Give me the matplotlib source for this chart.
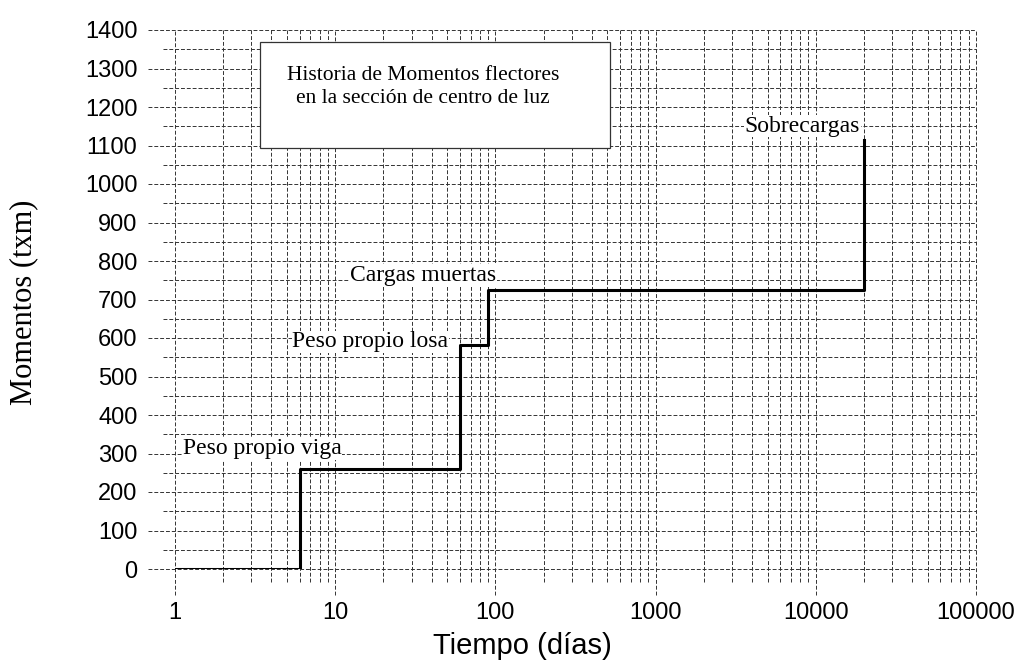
import matplotlib
matplotlib.use("Agg")
import matplotlib.pyplot as plt
from matplotlib.patches import Rectangle

# load history at mid-span: time (days) and bending moment (t*m)
tiempo = [1, 6, 60, 90, 20000]
momento = [0, 260, 583, 725, 1115]

etiquetas = ["Peso propio viga", "Peso propio losa", "Cargas muertas", "Sobrecargas"]
etiqueta_xy = [(1.12, 312), (5.4, 590), (12.4, 762), (3600, 1150)]

x_ticks = [1, 10, 100, 1000, 10000, 100000]
y_ticks = list(range(0, 1401, 100))

SERIF = "Liberation Serif"
SANS = "Liberation Sans"

fig = plt.figure(figsize=(10.2, 6.66), dpi=100)
ax = fig.add_axes([175 / 1020, 1 - 569 / 666, 801 / 1020, 539 / 666])
ax.set_xscale("log")
ax.set_xlim(1, 100000)
ax.set_ylim(0, 1400)
for s in ax.spines.values():
    s.set_visible(False)

grid_kw = dict(color="0.2", linewidth=0.7, linestyle=(0, (4, 2)), zorder=1)

# horizontal grid every 50, the hundreds run out past the axis
for y in range(0, 1401, 50):
    ext = 0.034 if y % 100 == 0 else 0.015
    ax.axhline(y, xmin=-ext, xmax=1, clip_on=False, **grid_kw)

# log grid, decades run further below the axis
for dec in range(5):
    for m in range(1, 10):
        xv = m * 10 ** dec
        ext = 0.048 if m == 1 else 0.024
        ax.axvline(xv, ymin=-ext, ymax=1, clip_on=False, **grid_kw)
ax.axvline(100000, ymin=-0.048, ymax=1, clip_on=False, **grid_kw)

ax.step(tiempo, momento, where="post", color="black", linewidth=2.2, zorder=4)

for txt, (xt, yt) in zip(etiquetas, etiqueta_xy):
    ax.text(xt, yt, txt, fontsize=17, family=SERIF, ha="left", va="center", zorder=5,
            bbox=dict(facecolor="white", edgecolor="none", pad=0.5))

# title box
box = Rectangle((0.106, 0.781), 0.437, 0.197, transform=ax.transAxes,
                facecolor="white", edgecolor="0.2", linewidth=0.9, zorder=6)
ax.add_patch(box)
ax.text(0.31, 0.915, "Historia de Momentos flectores", transform=ax.transAxes,
        fontsize=15.5, family=SERIF, ha="center", va="center", zorder=7)
ax.text(0.31, 0.872, "en la sección de centro de luz", transform=ax.transAxes,
        fontsize=15.5, family=SERIF, ha="center", va="center", zorder=7)

ax.set_xticks(x_ticks)
ax.set_xticklabels([str(v) for v in x_ticks], fontsize=17, family=SANS)
ax.xaxis.set_minor_locator(matplotlib.ticker.NullLocator())
ax.set_yticks(y_ticks)
ax.set_yticklabels([str(v) for v in y_ticks], fontsize=17, family=SANS)
ax.tick_params(axis="x", length=0, pad=24)
ax.tick_params(axis="y", length=0, pad=27)

fig.text(522 / 1020, 1 - 646 / 666, "Tiempo (días)", fontsize=21, family=SANS,
         ha="center", va="center")
fig.text(24 / 1020, 1 - 302 / 666, "Momentos (txm)", fontsize=22, family=SERIF,
         ha="center", va="center", rotation=90)

fig.savefig("out.png", dpi=100, facecolor="white")
